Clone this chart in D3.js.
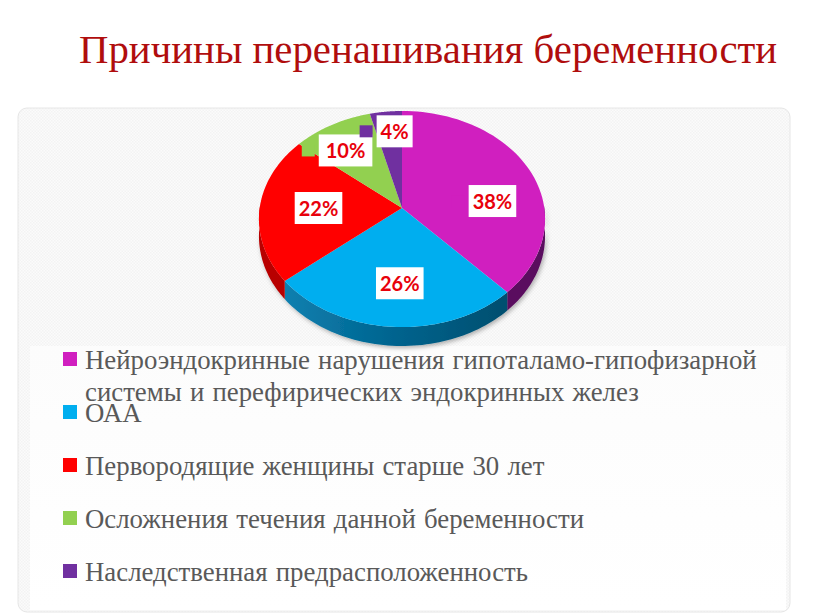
<!DOCTYPE html>
<html><head><meta charset="utf-8">
<script src="https://cdn.jsdelivr.net/npm/d3@7"></script>
<style>html,body{margin:0;padding:0;background:#fff}svg{display:block}</style>
</head><body><div id="c"></div>
<script>
const titleText = "Причины перенашивания беременности";
const categories = [
  ["Нейроэндокринные нарушения гипоталамо-гипофизарной","системы и перефирических эндокринных желез"],
  ["ОАА"],
  ["Первородящие женщины старше 30 лет"],
  ["Осложнения течения данной беременности"],
  ["Наследственная предрасположенность"]
];
const values = [38, 26, 22, 10, 4];
const colors = ["#d01fbf", "#00aeef", "#ff0000", "#92d050", "#7030a0"];
const wallColors = ["#5a0f5e", "#005f8a", "#b80000", "#6a9a38", "#4c2070"];

const W = 816, H = 613;
const svg = d3.select("#c").append("svg").attr("width", W).attr("height", H);
const defs = svg.append("defs");

const pat = defs.append("pattern").attr("id","dots").attr("width",3).attr("height",3).attr("patternUnits","userSpaceOnUse");
pat.append("rect").attr("width",3).attr("height",3).attr("fill","#fbfbfb");
pat.append("rect").attr("width",1.5).attr("height",1.5).attr("fill","#f3f3f3");
pat.append("rect").attr("x",1.5).attr("y",1.5).attr("width",1.5).attr("height",1.5).attr("fill","#f3f3f3");

const fade = defs.append("linearGradient").attr("id","fade").attr("x1",0).attr("x2",0).attr("y1",0).attr("y2",1);
fade.append("stop").attr("offset",0).attr("stop-color","#fcfcfc");
fade.append("stop").attr("offset",0.3).attr("stop-color","#fdfdfd");
fade.append("stop").attr("offset",1).attr("stop-color","#ffffff");

const blueWall = defs.append("linearGradient").attr("id","blueWall").attr("gradientUnits","userSpaceOnUse")
  .attr("x1",283).attr("x2",502).attr("y1",0).attr("y2",0);
blueWall.append("stop").attr("offset",0).attr("stop-color","#0e80b0");
blueWall.append("stop").attr("offset",0.5).attr("stop-color","#00648f");
blueWall.append("stop").attr("offset",1).attr("stop-color","#004f70");

const shadow = defs.append("filter").attr("id","shadow").attr("x","-10%").attr("y","-10%").attr("width","120%").attr("height","125%");
shadow.append("feDropShadow").attr("dx",1.5).attr("dy",2).attr("stdDeviation",2).attr("flood-color","#000").attr("flood-opacity",0.3);

// background panel
svg.append("rect").attr("x",18).attr("y",108).attr("width",772).attr("height",504).attr("rx",9)
  .attr("fill","url(#dots)").attr("stroke","#e6e6e6").attr("stroke-width",1);
svg.append("rect").attr("x",30).attr("y",346).attr("width",756).attr("height",264)
  .attr("fill","url(#fade)");

// title
svg.append("text").attr("x",79).attr("y",63).text(titleText)
  .attr("font-family","'Liberation Serif'").attr("font-size",40.8).attr("fill","#b00d0d");

// pie geometry: projected tilted disc
const cx = 402, cy = 208, R = 142.3, S = 106.9, k = 0.102, depth = 17;
const project = (a, r = 1) => {
  const u = r * Math.sin(a), v = -r * Math.cos(a), d = 1 - k * v;
  return [cx + R * u / d, cy + S * v / d];
};
const wallDrop = a => depth / (1 + k * Math.cos(a));
const arcs = d3.pie().sort(null).value(d => d)(values);
const line = d3.line();
const arcPts = (a0, a1) => d3.range(0, 61).map(i => a0 + (a1 - a0) * i / 60);

const g = svg.append("g");
const walls = g.append("g").attr("filter","url(#shadow)");
arcs.forEach((s, i) => {
  const a0 = Math.max(s.startAngle, 0), a1 = s.endAngle;
  const lo = Math.max(a0, Math.PI / 2 - 0.02), hi = Math.min(a1, 3 * Math.PI / 2 + 0.02);
  if (hi <= lo) return;
  const as = arcPts(lo, hi);
  const top = as.map(a => project(a));
  const bot = as.slice().reverse().map(a => { const p = project(a); return [p[0], p[1] + wallDrop(a)]; });
  walls.append("path").attr("d", line(top.concat(bot)) + "Z")
    .attr("fill", i === 1 ? "url(#blueWall)" : wallColors[i]);
});
g.selectAll("path.top").data(arcs).join("path").attr("class","top")
  .attr("d", s => line([[cx, cy]].concat(arcPts(s.startAngle, s.endAngle).map(a => project(a)))) + "Z")
  .attr("fill", (s, i) => colors[i]);

// data labels: projected slice centroid plus a manual layout nudge
const nudge = [[6.5,18],[4,1],[9,0],[-9.5,-2],[3.5,-12]];
const lab = svg.append("g");
arcs.forEach((s, i) => {
  const p = project((s.startAngle + s.endAngle) / 2, 0.65);
  const x = p[0] + nudge[i][0], y = p[1] + nudge[i][1];
  const node = lab.append("g");
  const t = node.append("text").attr("x", x).attr("y", y + 8).attr("text-anchor","middle")
    .attr("font-family","Lato").attr("font-weight",700).attr("font-size",20).attr("fill","#e8000b")
    .text(s.value + "%");
  const w = t.node().getComputedTextLength() + (s.value === 10 ? 14 : 8);
  node.insert("rect","text").attr("x", x - w / 2).attr("y", y - 16).attr("width", w).attr("height", 32).attr("fill","#fff");
  node.insert("rect","text").attr("x", x - w / 2 - 17).attr("y", y - 6).attr("width", 13).attr("height", 12).attr("fill", colors[i]);
});

// legend
const y = d3.scalePoint().domain(d3.range(values.length)).range([359, 571]);
const leg = svg.append("g");
categories.forEach((lines, i) => {
  leg.append("rect").attr("x",63).attr("y",y(i)-7).attr("width",14).attr("height",14).attr("fill",colors[i]);
  lines.forEach((l, j) => {
    leg.append("text").attr("x",85).attr("y",y(i)+10+j*32).text(l)
      .attr("font-family","'Liberation Serif'").attr("font-size",26.8).attr("word-spacing",1.5)
      .attr("fill","#595959");
  });
});
</script></body></html>
